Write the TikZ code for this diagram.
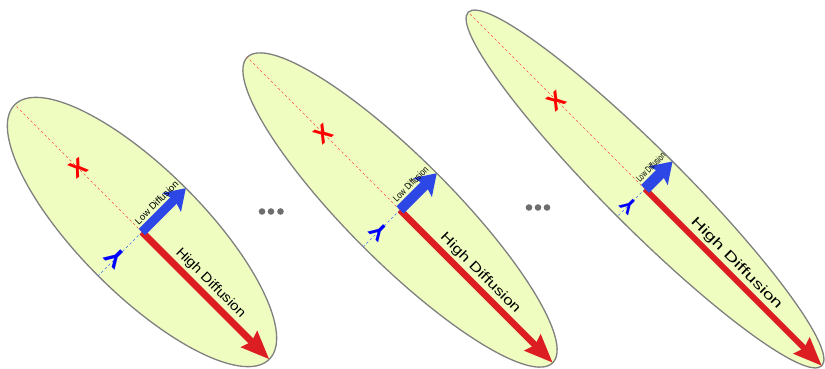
\documentclass[tikz,border=0pt]{standalone}
\usepackage{fontspec}
\setmainfont{Liberation Sans}
\usetikzlibrary{arrows.meta}

\definecolor{ellfill}{RGB}{239,253,192}
\definecolor{ellline}{RGB}{128,128,128}
\definecolor{hired}{RGB}{220,30,35}
\definecolor{lowblue}{RGB}{45,70,230}
\definecolor{axred}{RGB}{250,80,70}
\definecolor{axblue}{RGB}{60,110,250}
\definecolor{dotgray}{RGB}{110,110,110}

\begin{document}
\begin{tikzpicture}[
  x=1pt,y=1pt,
  ell/.style={draw=ellline, fill=ellfill, line width=1.3pt},
  higharr/.style={draw=hired, line width=7pt, -{Stealth[length=28pt,width=22pt,inset=3pt]}},
  lowarr/.style={draw=lowblue, line width=10pt, -{Stealth[length=20pt,width=26pt,inset=4pt]}},
  xaxis/.style={draw=axred, dash pattern=on 2.5pt off 2.5pt, line width=0.6pt},
  yaxis/.style={draw=axblue, dash pattern=on 2.5pt off 2.5pt, line width=0.6pt},
  xlab/.style={text=red, font=\bfseries\fontsize{24}{24}\selectfont, rotate=35, inner sep=0pt},
  ylab/.style={text=blue, font=\bfseries\fontsize{27}{27}\selectfont, rotate=135, inner sep=0pt},
  hilab/.style={text=black, font=\fontsize{13.5}{14}\selectfont, sloped, transform shape, above=1.5pt, inner sep=1pt},
  lolab/.style={text=black, font=\fontsize{9.5}{10}\selectfont, sloped, transform shape, above=1.5pt, inner sep=1pt}
]
\useasboundingbox (0,0) rectangle (825,368);

% first ellipse
\begin{scope}[shift={(142,136)}, rotate=-45]
  \draw[ell] (0,0) ellipse [x radius=180, y radius=62];
  \coordinate (c1) at (0,0);
  \coordinate (h1) at (180,0);
  \coordinate (l1) at (0,62);
  \coordinate (t1) at (-180,0);
  \coordinate (b1) at (0,-62);
  \draw[xaxis] (c1) -- (t1);
  \draw[yaxis] (c1) -- (b1);
  \draw[higharr] (c1) -- node[hilab, pos=0.47] (hl1) {\scalebox{1.1}[1]{High Diffusion}} (h1);
  \draw[lowarr, line width=9pt] (c1) -- node[lolab, pos=0.5] (ll1) {Low Diffusion} (l1);
  \node[xlab] (x1) at (-90,0) {X};
  \node[ylab] (y1) at (0,-37) {Y};
\end{scope}

% second ellipse
\begin{scope}[shift={(400,158)}, rotate=-45]
  \draw[ell] (0,0) ellipse [x radius=216, y radius=52];
  \coordinate (c2) at (0,0);
  \coordinate (h2) at (216,0);
  \coordinate (l2) at (0,52);
  \coordinate (t2) at (-216,0);
  \coordinate (b2) at (0,-52);
  \draw[xaxis] (c2) -- (t2);
  \draw[yaxis] (c2) -- (b2);
  \draw[higharr, line width=6.5pt] (c2) -- node[hilab, pos=0.47] (hl2) {\scalebox{1.28}[1]{High Diffusion}} (h2);
  \draw[lowarr] (c2) -- node[lolab, pos=0.5] (ll2) {\scalebox{0.8}[1]{Low Diffusion}} (l2);
  \node[xlab, rotate=5] (x2) at (-108,0) {X};
  \node[ylab, font=\bfseries\fontsize{24}{24}\selectfont] (y2) at (0,-30) {Y};
\end{scope}

% third ellipse
\begin{scope}[shift={(645,179)}, rotate=-45]
  \draw[ell] (0,0) ellipse [x radius=250, y radius=39];
  \coordinate (c3) at (0,0);
  \coordinate (h3) at (250,0);
  \coordinate (l3) at (0,39);
  \coordinate (t3) at (-250,0);
  \coordinate (b3) at (0,-39);
  \draw[xaxis] (c3) -- (t3);
  \draw[yaxis] (c3) -- (b3);
  \draw[higharr, line width=6pt] (c3) -- node[hilab, pos=0.47] (hl3) {\scalebox{1.47}[1]{High Diffusion}} (h3);
  \draw[lowarr, line width=11pt] (c3) -- node[lolab, pos=0.5] (ll3) {\scalebox{0.65}[1]{Low Diffusion}} (l3);
  \node[xlab, rotate=5] (x3) at (-125,0) {X};
  \node[ylab, font=\bfseries\fontsize{22}{22}\selectfont] (y3) at (0,-23) {Y};
\end{scope}

% dots between
\fill[dotgray] (262,156.5) circle (3.3) (271,156.5) circle (3.3) (280.5,156.5) circle (3.3);
\fill[dotgray] (529,160.5) circle (3.3) (538,160.5) circle (3.3) (547,160.5) circle (3.3);
\end{tikzpicture}
\end{document}
